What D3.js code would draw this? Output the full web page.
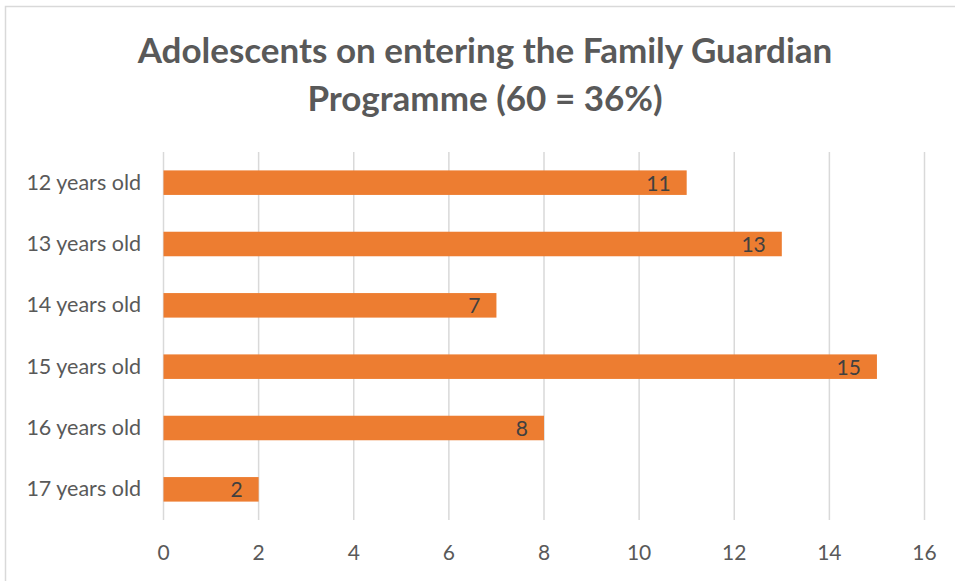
<!DOCTYPE html>
<html>
<head>
<meta charset="utf-8">
<script src="https://cdn.jsdelivr.net/npm/d3@7"></script>
<style>
    body { margin: 0; background: #fff; }
    text { font-family: Lato, "Open Sans", sans-serif; }
</style>
</head>
<body>
<script>
var categories = ["12 years old", "13 years old", "14 years old", "15 years old", "16 years old", "17 years old"];
var values = [11, 13, 7, 15, 8, 2];
var xTicks = [0, 2, 4, 6, 8, 10, 12, 14, 16];
var titleLines = ["Adolescents on entering the Family Guardian", "Programme (60 = 36%)"];

var width = 955,
    height = 581;

var plot = {
    left: 163.5,
    right: 924.5,
    top: 152,
    bottom: 520
};

var svg = d3.select("body").append("svg")
    .attr("width", width)
    .attr("height", height);

// chart frame
svg.append("rect")
    .attr("x", 5.5)
    .attr("y", 6.5)
    .attr("width", width)
    .attr("height", height)
    .style("fill", "none")
    .style("stroke", "#d9d9d9")
    .style("stroke-width", 1.5);

svg.append("g").selectAll("text")
    .data(titleLines)
    .enter().append("text")
    .attr("x", 485)
    .attr("y", function(d, i) {
        return 63 + i * 48;
    })
    .attr("text-anchor", "middle")
    .style("font-size", "35px")
    .style("font-weight", "bold")
    .style("fill", "#595959")
    .text(function(d) {
        return d;
    });

var x = d3.scaleLinear()
    .domain([0, 16])
    .range([plot.left, plot.right]);

var y = d3.scaleBand()
    .domain(categories)
    .range([plot.top, plot.bottom])
    .paddingInner(0.6)
    .paddingOuter(0.3);

// gridlines
svg.append("g").selectAll("line")
    .data(xTicks)
    .enter().append("line")
    .attr("x1", function(d) { return x(d); })
    .attr("x2", function(d) { return x(d); })
    .attr("y1", plot.top)
    .attr("y2", plot.bottom)
    .style("stroke", "#d9d9d9")
    .style("stroke-width", 1.5);

// x tick labels
svg.append("g").selectAll("text")
    .data(xTicks)
    .enter().append("text")
    .attr("x", function(d) { return x(d); })
    .attr("y", 560)
    .attr("text-anchor", "middle")
    .style("font-size", "21px")
    .style("fill", "#595959")
    .text(function(d) { return d; });

// category labels
svg.append("g").selectAll("text")
    .data(categories)
    .enter().append("text")
    .attr("x", 141)
    .attr("y", function(d) { return y(d) + y.bandwidth() / 2 + 7; })
    .attr("text-anchor", "end")
    .style("font-size", "21.5px")
    .style("fill", "#595959")
    .text(function(d) { return d; });

var bars = categories.map(function(c, i) {
    return { name: c, value: values[i] };
});

svg.append("g").selectAll("rect")
    .data(bars)
    .enter().append("rect")
    .attr("x", x(0))
    .attr("y", function(d) { return y(d.name); })
    .attr("width", function(d) { return x(d.value) - x(0); })
    .attr("height", y.bandwidth())
    .style("fill", "#ed7d31");

// data labels, inside end
svg.append("g").selectAll("text")
    .data(bars)
    .enter().append("text")
    .attr("x", function(d) { return x(d.value) - 16; })
    .attr("y", function(d) { return y(d.name) + y.bandwidth() / 2 + 8; })
    .attr("text-anchor", "end")
    .style("font-size", "21px")
    .style("fill", "#404040")
    .text(function(d) { return d.value; });
</script>
</body>
</html>
